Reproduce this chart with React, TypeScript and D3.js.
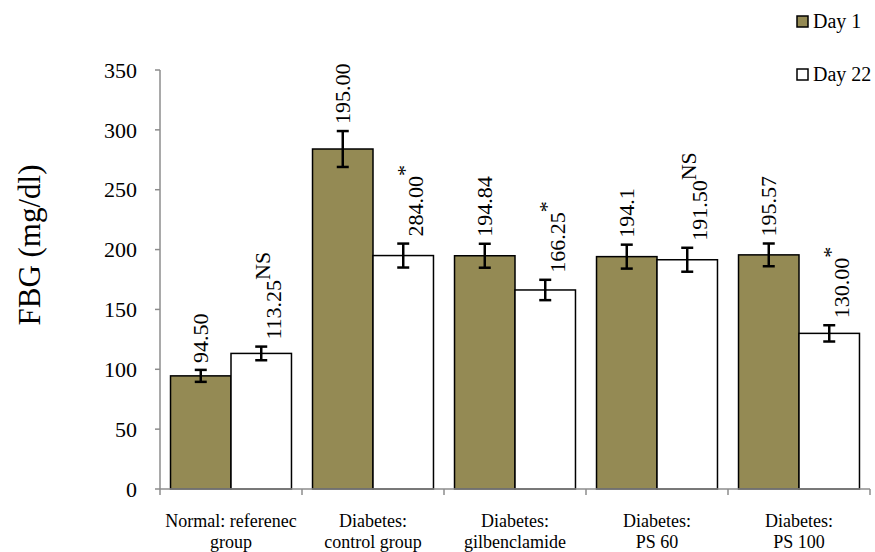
import React from "react";
import * as d3 from "d3";

const categories = [
  ["Normal: referenec", "group"],
  ["Diabetes:", "control group"],
  ["Diabetes:", "gilbenclamide"],
  ["Diabetes:", "PS 60"],
  ["Diabetes:", "PS 100"],
];
const seriesNames = ["Day 1", "Day 22"];
const day1 = [94.5, 284, 194.84, 194.1, 195.57];
const day22 = [113.25, 195, 166.25, 191.5, 130];
const day1Err = [5, 15, 10, 10, 9.5];
const day22Err = [5.7, 10, 8.5, 10, 6.8];
const day1Labels = ["94.50", "195.00", "194.84", "194.1", "195.57"];
const day22Labels = ["113.25", "284.00", "166.25", "191.50", "130.00"];
const day1Sup = ["", "", "", "", ""];
const day22Sup = ["NS", "*", "*", "NS", "*"];
const yTicks = [0, 50, 100, 150, 200, 250, 300, 350];

const W = 875;
const H = 552;
const FONT = "'Liberation Serif', 'Times New Roman', Times, serif";
const OLIVE = "#948a54";
const AXIS = "#8c8c8c";

export default function App() {
  const x0 = d3
    .scaleBand<number>()
    .domain(d3.range(categories.length))
    .range([160, 870])
    .padding(0);
  const x1 = d3
    .scaleBand<number>()
    .domain([0, 1])
    .range([0, x0.bandwidth()])
    .paddingInner(0)
    .paddingOuter(0.174);
  const y = d3.scaleLinear().domain([0, 350]).range([489, 70]);

  const series = [
    { vals: day1, errs: day1Err, labels: day1Labels, sups: day1Sup, fill: OLIVE },
    { vals: day22, errs: day22Err, labels: day22Labels, sups: day22Sup, fill: "#ffffff" },
  ];

  const tstyle = { fontFamily: FONT };

  return (
    <svg
      width={W}
      height={H}
      style={{ position: "absolute", left: 0, top: 0, background: "#fff", fontFamily: FONT }}
    >
      {/* y title */}
      <text
        transform={`translate(40,245) rotate(-90)`}
        textAnchor="middle"
        fontSize={31}
        fill="#000"
        style={tstyle}
      >
        FBG (mg/dl)
      </text>

      {/* y axis */}
      <line x1={160} x2={160} y1={y(350)} y2={y(0)} stroke={AXIS} strokeWidth={1.5} />
      {yTicks.map((t) => (
        <g key={t}>
          <line x1={155} x2={160} y1={y(t)} y2={y(t)} stroke={AXIS} strokeWidth={1.5} />
          <text
            x={137}
            y={y(t)}
            dy="0.35em"
            textAnchor="end"
            fontSize={22}
            fill="#000"
            style={tstyle}
          >
            {t}
          </text>
        </g>
      ))}

      {/* bars */}
      {series.map((s, si) =>
        s.vals.map((v, i) => {
          const bx = (x0(i) as number) + (x1(si) as number);
          const bw = x1.bandwidth();
          return (
            <rect
              key={`b${si}-${i}`}
              x={bx}
              y={y(v)}
              width={bw}
              height={y(0) - y(v)}
              fill={s.fill}
              stroke="#000"
              strokeWidth={1.5}
            />
          );
        })
      )}

      {/* x axis */}
      <line x1={160} x2={870} y1={y(0)} y2={y(0)} stroke={AXIS} strokeWidth={1.5} />
      {d3.range(categories.length + 1).map((i) => {
        const xx = i < categories.length ? (x0(i) as number) : 870;
        return (
          <line key={`xt${i}`} x1={xx} x2={xx} y1={y(0)} y2={y(0) + 6} stroke={AXIS} strokeWidth={1.5} />
        );
      })}
      {categories.map((c, i) => {
        const cx = (x0(i) as number) + x0.bandwidth() / 2;
        return (
          <text key={`cl${i}`} x={cx} textAnchor="middle" fontSize={18} fill="#000" style={tstyle}>
            <tspan x={cx} y={527}>{c[0]}</tspan>
            <tspan x={cx} y={548}>{c[1]}</tspan>
          </text>
        );
      })}

      {/* error bars */}
      {series.map((s, si) =>
        s.vals.map((v, i) => {
          const cx = (x0(i) as number) + (x1(si) as number) + x1.bandwidth() / 2;
          const e = s.errs[i];
          return (
            <g key={`e${si}-${i}`} stroke="#000" strokeWidth={2.5}>
              <line x1={cx} x2={cx} y1={y(v + e)} y2={y(v - e)} />
              <line x1={cx - 6} x2={cx + 6} y1={y(v + e)} y2={y(v + e)} />
              <line x1={cx - 6} x2={cx + 6} y1={y(v - e)} y2={y(v - e)} />
            </g>
          );
        })
      )}

      {/* value labels */}
      {series.map((s, si) =>
        s.vals.map((v, i) => {
          const cx = (x0(i) as number) + (x1(si) as number) + x1.bandwidth() / 2;
          const sup = s.sups[i];
          const tx = cx + 7.4 + (sup ? 12 : 0);
          const ty = y(v + s.errs[i]) - 7;
          return (
            <text
              key={`l${si}-${i}`}
              transform={`translate(${tx},${ty}) rotate(-90)`}
              textAnchor="start"
              fontSize={22}
              fill="#000"
              style={tstyle}
            >
              {s.labels[i]}
              {sup ? <tspan dy={-11}>{sup}</tspan> : null}
            </text>
          );
        })
      )}

      {/* legend */}
      {seriesNames.map((n, si) => {
        const ly = si === 0 ? 16 : 69;
        return (
          <g key={`lg${si}`}>
            <rect x={797} y={ly} width={11} height={11} fill={series[si].fill} stroke="#000" strokeWidth={1.5} />
            <text x={813} y={ly + 12} fontSize={20} fill="#000" style={tstyle}>
              {n}
            </text>
          </g>
        );
      })}
    </svg>
  );
}
